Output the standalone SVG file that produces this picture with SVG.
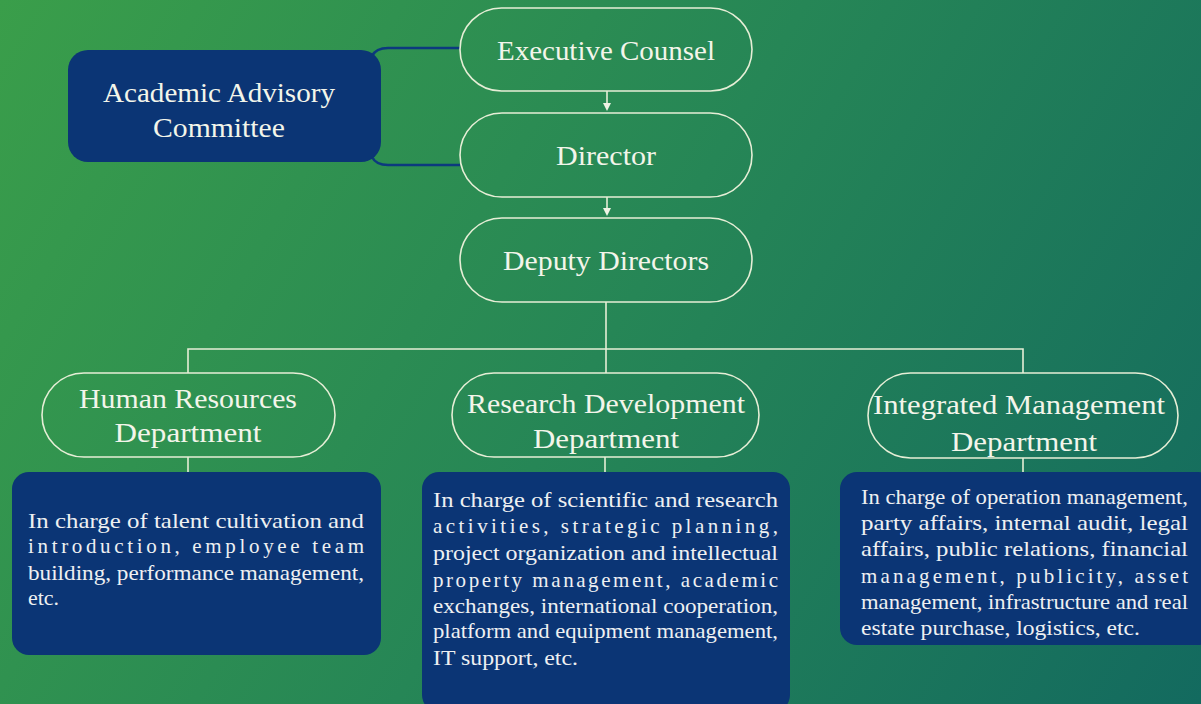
<svg xmlns="http://www.w3.org/2000/svg" width="1201" height="704" viewBox="0 0 1201 704">
<defs>
<linearGradient id="bg" x1="0" y1="0" x2="1201" y2="704" gradientUnits="userSpaceOnUse">
<stop offset="0" stop-color="#3a9e4a"/>
<stop offset="0.5" stop-color="#268656"/>
<stop offset="1" stop-color="#136a5f"/>
</linearGradient>
<style>
.pill{fill:none;stroke:#e6eed6;stroke-width:1.6}
.blue{fill:#0b3575}
.t{font-family:"Liberation Serif","DejaVu Serif",serif;font-size:28px;fill:#f3f5ea;text-anchor:middle}
.b{font-family:"Liberation Serif","DejaVu Serif",serif;font-size:21px;fill:#eef0f2}
.ln{fill:none;stroke:#e6eed6;stroke-width:1.6}
.dk{fill:none;stroke:#0c3a7e;stroke-width:2.6}
.ah{fill:#eef3e4}
</style>
</defs>
<rect width="1201" height="704" fill="url(#bg)"/>

<g id="connectors">
<path class="dk" d="M372,56 Q376,48 388,48 L460,48"/>
<path class="dk" d="M372,157 Q376,165 388,165 L460,165"/>
<line class="ln" x1="607" y1="91" x2="607" y2="104"/>
<polygon class="ah" points="603,103 611,103 607,111"/>
<line class="ln" x1="607" y1="197" x2="607" y2="209"/>
<polygon class="ah" points="603,208 611,208 607,216"/>
<line class="ln" x1="606" y1="302" x2="606" y2="373"/>
<polyline class="ln" points="188,373 188,349 1023,349 1023,373"/>
<line class="ln" x1="188" y1="457" x2="188" y2="472"/>
<line class="ln" x1="605" y1="457" x2="605" y2="472"/>
<line class="ln" x1="1023" y1="458" x2="1023" y2="472"/>
</g>

<g id="academic-advisory-committee">
<rect class="blue" x="68" y="50" width="313" height="112" rx="20"/>
<text class="t" x="219" y="102" textLength="232" lengthAdjust="spacingAndGlyphs">Academic Advisory</text>
<text class="t" x="219" y="137" textLength="132" lengthAdjust="spacingAndGlyphs">Committee</text>
</g>

<g id="executive-counsel">
<rect class="pill" x="460" y="8" width="292" height="83" rx="41.5"/>
<text class="t" x="606" y="60" textLength="218" lengthAdjust="spacingAndGlyphs">Executive Counsel</text>
</g>

<g id="director">
<rect class="pill" x="460" y="113" width="292" height="84" rx="42"/>
<text class="t" x="606" y="165" textLength="100" lengthAdjust="spacingAndGlyphs">Director</text>
</g>

<g id="deputy-directors">
<rect class="pill" x="460" y="218" width="292" height="84" rx="42"/>
<text class="t" x="606" y="270" textLength="206" lengthAdjust="spacingAndGlyphs">Deputy Directors</text>
</g>

<g id="hr-department">
<rect class="pill" x="42" y="373" width="293" height="84" rx="42"/>
<text class="t" x="188" y="408" textLength="218" lengthAdjust="spacingAndGlyphs">Human Resources</text>
<text class="t" x="188" y="442" textLength="147" lengthAdjust="spacingAndGlyphs">Department</text>
</g>

<g id="research-department">
<rect class="pill" x="452" y="373" width="307" height="84" rx="42"/>
<text class="t" x="606" y="413" textLength="278" lengthAdjust="spacingAndGlyphs">Research Development</text>
<text class="t" x="606" y="448" textLength="146" lengthAdjust="spacingAndGlyphs">Department</text>
</g>

<g id="integrated-department">
<rect class="pill" x="868" y="373" width="310" height="85" rx="42.5"/>
<text class="t" x="1019" y="414" textLength="292" lengthAdjust="spacingAndGlyphs">Integrated Management</text>
<text class="t" x="1024" y="451" textLength="146" lengthAdjust="spacingAndGlyphs">Department</text>
</g>

<g id="hr-duties">
<rect class="blue" x="12" y="472" width="369" height="183" rx="17"/>
<text class="b" x="28" y="528" textLength="336" lengthAdjust="spacingAndGlyphs">In charge of talent cultivation and</text>
<text class="b" x="28" y="553" textLength="336" lengthAdjust="spacing">introduction, employee team</text>
<text class="b" x="28" y="580" textLength="336" lengthAdjust="spacingAndGlyphs">building, performance management,</text>
<text class="b" x="28" y="605" textLength="31" lengthAdjust="spacingAndGlyphs">etc.</text>
</g>

<g id="research-duties">
<rect class="blue" x="422" y="472" width="368" height="240" rx="17"/>
<text class="b" x="433" y="507" textLength="345" lengthAdjust="spacingAndGlyphs">In charge of scientific and research</text>
<text class="b" x="433" y="533" textLength="345" lengthAdjust="spacing">activities, strategic planning,</text>
<text class="b" x="433" y="560" textLength="345" lengthAdjust="spacingAndGlyphs">project organization and intellectual</text>
<text class="b" x="433" y="587" textLength="345" lengthAdjust="spacing">property management, academic</text>
<text class="b" x="433" y="613" textLength="345" lengthAdjust="spacingAndGlyphs">exchanges, international cooperation,</text>
<text class="b" x="433" y="638" textLength="345" lengthAdjust="spacingAndGlyphs">platform and equipment management,</text>
<text class="b" x="433" y="665" textLength="145" lengthAdjust="spacingAndGlyphs">IT support, etc.</text>
</g>

<g id="integrated-duties">
<rect class="blue" x="840" y="472" width="375" height="173" rx="17"/>
<text class="b" x="861" y="504" textLength="327" lengthAdjust="spacingAndGlyphs">In charge of operation management,</text>
<text class="b" x="861" y="530" textLength="327" lengthAdjust="spacingAndGlyphs">party affairs, internal audit, legal</text>
<text class="b" x="861" y="556" textLength="327" lengthAdjust="spacingAndGlyphs">affairs, public relations, financial</text>
<text class="b" x="861" y="583" textLength="327" lengthAdjust="spacing">management, publicity, asset</text>
<text class="b" x="861" y="609" textLength="327" lengthAdjust="spacingAndGlyphs">management, infrastructure and real</text>
<text class="b" x="861" y="635" textLength="279" lengthAdjust="spacingAndGlyphs">estate purchase, logistics, etc.</text>
</g>
</svg>
